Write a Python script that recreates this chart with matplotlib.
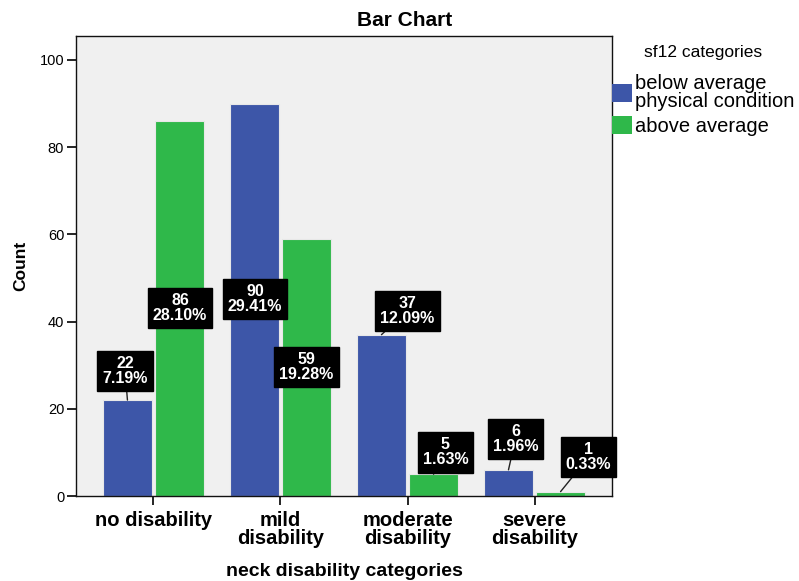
import numpy as np
import matplotlib
matplotlib.use('Agg')
import matplotlib.pyplot as plt
from matplotlib.patches import Patch

plt.rcParams['font.family'] = ['Liberation Sans', 'DejaVu Sans']

categories = ['no disability', 'mild\ndisability', 'moderate\ndisability', 'severe\ndisability']
series_names = ['below average\nphysical condition', 'above average']
below_avg = [22, 90, 37, 6]
above_avg = [86, 59, 5, 1]
total = 306

# label box centres (data coords), per series
label_pos_below = [(-0.224, 28.7), (0.799, 45.1), (2.0, 42.5), (2.85, 13.1)]
label_pos_above = [(0.209, 43.1), (1.205, 29.6), (2.299, 10.0), (3.425, 8.9)]

blue = '#3d56a8'
green = '#2fb84a'

fig = plt.figure(figsize=(7.99, 5.81), dpi=100)
ax = fig.add_axes([76 / 799, 85 / 581, 536 / 799, 460 / 581])
ax.set_facecolor('#f0f0f0')

x = np.arange(len(categories))
w = 0.39
off = 0.205
ax.bar(x - off, below_avg, width=w, color=blue, edgecolor='#e8e8e8', linewidth=0.8, zorder=2)
ax.bar(x + off, above_avg, width=w, color=green, edgecolor='#e8e8e8', linewidth=0.8, zorder=2)

def add_labels(values, positions, offset):
    for i, (v, (lx, ly)) in enumerate(zip(values, positions)):
        txt = f'{v}\n{v / total * 100:.2f}%'
        props = None
        if ly > v:
            props = dict(arrowstyle='-', color='#222222', lw=1, shrinkA=0, shrinkB=0)
        ax.annotate(txt, xy=(i + offset, v), xytext=(lx, ly),
                    ha='center', va='center', color='white', fontsize=11.5,
                    fontweight='bold', linespacing=1.0,
                    bbox=dict(boxstyle='square,pad=0.32', fc='black', ec='black'),
                    arrowprops=props, zorder=5)

add_labels(below_avg, label_pos_below, -off)
add_labels(above_avg, label_pos_above, off)

ax.set_xlim(-0.61, 3.61)
ax.set_ylim(0, 105.5)
ax.set_xticks(x)
ax.set_xticklabels(categories, fontsize=14.5, fontweight='bold', linespacing=0.95)
ax.set_yticks(np.arange(0, 101, 20))
ax.tick_params(axis='y', labelsize=10.5, length=6.5, width=1.2, direction='out', pad=2)
ax.tick_params(axis='x', length=6.5, width=1.2, direction='out', pad=4)
for s in ax.spines.values():
    s.set_color('#111111')
    s.set_linewidth(1)

fig.text(0.506, 1 - 21 / 581, 'Bar Chart', fontsize=15, fontweight='bold',
         ha='center', va='center')
ax.set_ylabel('Count', fontsize=12.5, fontweight='bold', labelpad=8)
ax.set_xlabel('neck disability categories', fontsize=14, fontweight='bold')
ax.xaxis.set_label_coords(0.5, -0.145)

handles = [Patch(facecolor=blue, edgecolor='none'), Patch(facecolor=green, edgecolor='none')]
leg = ax.legend(handles, series_names, title='sf12 categories', loc='upper left',
                bbox_to_anchor=(1.0, 0.98), frameon=False, fontsize=14.5,
                title_fontsize=12.5, handlelength=1.0, handleheight=1.0,
                handletextpad=0.15, borderpad=0, borderaxespad=0,
                labelspacing=0.25)
for t in leg.get_texts():
    t.set_linespacing(0.9)
leg._legend_box.sep = 10

fig.savefig('out.png', dpi=100)
